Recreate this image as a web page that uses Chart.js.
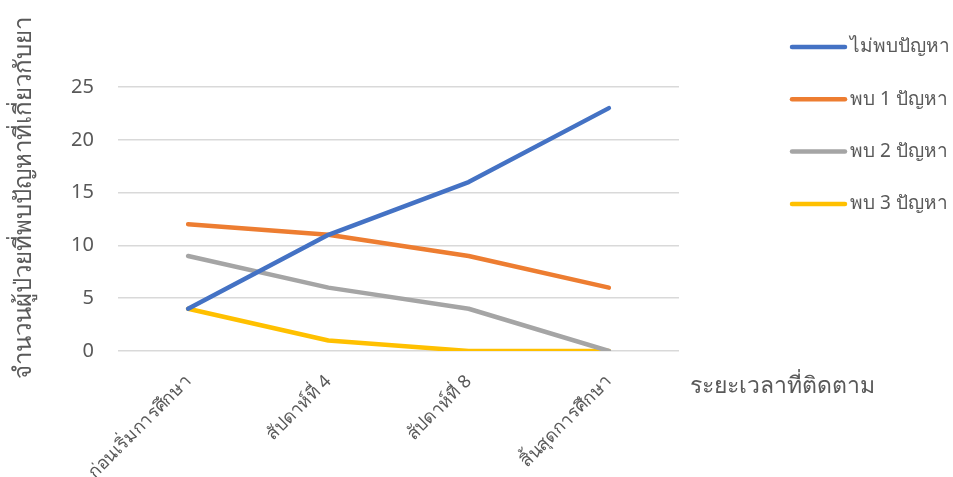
<!DOCTYPE html>
<html>
<head>
<meta charset="utf-8">
<script src="https://cdn.jsdelivr.net/npm/chart.js@4"></script>
<style>
  html, body { margin: 0; padding: 0; background: #fff; }
  #wrap { width: 953px; height: 477px; }
</style>
</head>
<body>
<div id="wrap"><canvas id="followchart" width="953" height="477"></canvas></div>
<script>
// categories and series
var periods = ["ก่อนเริ่มการศึกษา", "สัปดาห์ที่ 4", "สัปดาห์ที่ 8", "สิ้นสุดการศึกษา"];
var noProblem = [4, 11, 16, 23];
var oneProblem = [12, 11, 9, 6];
var twoProblems = [9, 6, 4, 0];
var threeProblems = [4, 1, 0, 0];
var seriesNames = ["ไม่พบปัญหา", "พบ 1 ปัญหา", "พบ 2 ปัญหา", "พบ 3 ปัญหา"];
var yTicks = [0, 5, 10, 15, 20, 25];

var fontFamily = "'Noto Sans', 'DejaVu Sans', sans-serif";
var textColor = "#595959";

function line(label, values, color) {
  return {
    label: label,
    data: values,
    borderColor: color,
    backgroundColor: color,
    borderWidth: 4.5,
    borderCapStyle: "round",
    borderJoinStyle: "round",
    pointRadius: 0,
    fill: false,
    tension: 0
  };
}

// legend, axis titles drawn by hand so they sit where the original has them
var sideLegend = {
  id: "sideLegend",
  afterDraw: function(chart) {
    var c = chart.ctx;
    c.save();
    c.font = "19px " + fontFamily;
    c.textBaseline = "middle";
    c.textAlign = "left";
    chart.data.datasets.forEach(function(ds, i) {
      var y = 47 + i * 52.3;
      c.strokeStyle = ds.borderColor;
      c.lineWidth = 4.5;
      c.lineCap = "round";
      c.beginPath();
      c.moveTo(792, y);
      c.lineTo(845, y);
      c.stroke();
      c.fillStyle = textColor;
      c.fillText(ds.label, 850, y);
    });
    // x axis title sits to the right of the axis
    c.font = "23px " + fontFamily;
    c.fillText("ระยะเวลาที่ติดตาม", 690, 386);
    // y axis title
    c.font = "24px " + fontFamily;
    c.translate(24, 198);
    c.rotate(-Math.PI / 2);
    c.textAlign = "center";
    c.fillText("จำนวนผู้ป่วยที่พบปัญหาที่เกี่ยวกับยา", 0, 0);
    c.restore();
  }
};

var ctx = document.getElementById("followchart").getContext("2d");

var fChart = new Chart(ctx, {
  type: "line",
  data: {
    labels: periods,
    datasets: [
      line(seriesNames[0], noProblem, "#4472C4"),
      line(seriesNames[1], oneProblem, "#ED7D31"),
      line(seriesNames[2], twoProblems, "#A5A5A5"),
      line(seriesNames[3], threeProblems, "#FFC000")
    ]
  },
  options: {
    responsive: false,
    animation: false,
    layout: { padding: { left: 0, top: 87, right: 274, bottom: 0 } },
    plugins: {
      legend: { display: false },
      tooltip: { enabled: false }
    },
    scales: {
      x: {
        offset: true,
        grid: { display: false, drawTicks: false },
        border: { display: false },
        ticks: {
          color: textColor,
          font: { family: fontFamily, size: 18 },
          minRotation: 45,
          maxRotation: 45,
          autoSkip: false,
          padding: 20
        },
        afterFit: function(scale) { scale.height = 126; }
      },
      y: {
        min: 0,
        max: 25,
        afterBuildTicks: function(scale) {
          scale.ticks = yTicks.map(function(v) { return { value: v }; });
        },
        grid: { color: "#D9D9D9", lineWidth: 1.5, drawTicks: false },
        border: { display: false },
        ticks: {
          color: textColor,
          font: { family: fontFamily, size: 20 },
          padding: 24
        },
        afterFit: function(scale) { scale.width = 118; }
      }
    }
  },
  plugins: [sideLegend]
});
</script>
</body>
</html>
